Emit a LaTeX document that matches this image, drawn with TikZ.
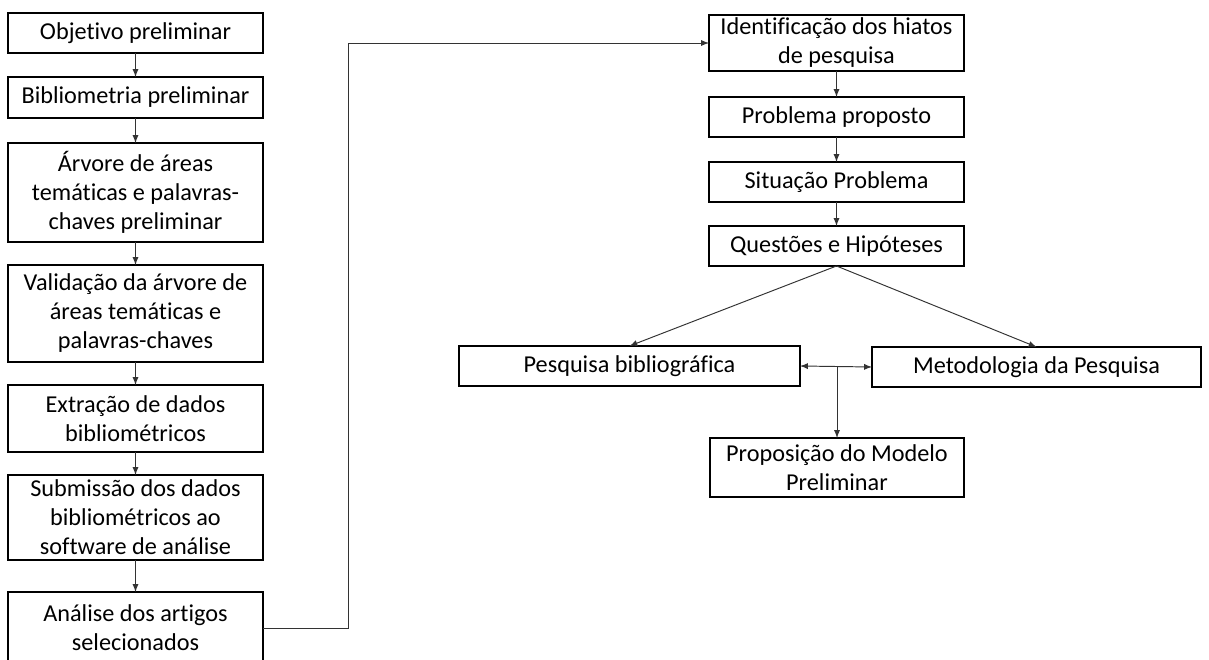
\documentclass[tikz,border=0pt]{standalone}
\usepackage{fontspec}
\setmainfont{Carlito}[Ligatures=NoCommon]
\usetikzlibrary{arrows}
\usetikzlibrary{calc}

\begin{document}
\begin{tikzpicture}[box/.style={draw, line width=0.8pt, inner sep=0pt, outer sep=0pt, align=center, font=\fontsize{13.8}{16.5}\selectfont}, link/.style={-latex, draw=black!80, line width=0.55pt}]
  \useasboundingbox (0,0) rectangle (24.18,-13.2);

  \node[box, minimum width=5.1cm, minimum height=0.8cm] (obj) at (2.71,-0.66) {Objetivo preliminar};
  \node[box, minimum width=5.1cm, minimum height=0.82cm] (biblio) at (2.71,-1.95) {Bibliometria preliminar};
  \node[box, minimum width=5.1cm, minimum height=1.98cm] (arvore) at (2.71,-3.85) {Árvore de áreas\\temáticas e palavras-\\chaves preliminar};
  \node[box, minimum width=5.1cm, minimum height=1.94cm] (valid) at (2.71,-6.27) {Validação da árvore de\\áreas temáticas e\\palavras-chaves};
  \node[box, minimum width=5.1cm, minimum height=1.34cm] (extr) at (2.71,-8.37) {Extração de dados\\bibliométricos};
  \node[box, minimum width=5.1cm, minimum height=1.70cm] (subm) at (2.71,-10.35) {Submissão dos dados\\bibliométricos ao\\software de análise};
  \node[box, minimum width=5.1cm, minimum height=1.44cm] (analise) at (2.71,-12.56) {Análise dos artigos\\selecionados};

  \node[box, minimum width=5.1cm, minimum height=1.12cm] (ident) at (16.73,-0.86) {Identificação dos hiatos\\de pesquisa};
  \node[box, minimum width=5.1cm, minimum height=0.8cm] (probl) at (16.73,-2.34) {Problema proposto};
  \node[box, minimum width=5.1cm, minimum height=0.8cm] (situ) at (16.73,-3.64) {Situação Problema};
  \node[box, minimum width=5.1cm, minimum height=0.8cm] (quest) at (16.73,-4.92) {Questões e Hipóteses};
  \node[box, minimum width=6.82cm, minimum height=0.8cm] (pesq) at (12.59,-7.32) {Pesquisa bibliográfica};
  \node[box, minimum width=6.58cm, minimum height=0.8cm] (metod) at (20.73,-7.34) {Metodologia da Pesquisa};
  \node[box, minimum width=5.08cm, minimum height=1.18cm] (prop) at (16.74,-9.35) {Proposição do Modelo\\Preliminar};

  \foreach \a/\b in {obj/biblio, biblio/arvore, arvore/valid, valid/extr, extr/subm, subm/analise, ident/probl, probl/situ, situ/quest}
    \draw[link] (\a) -- (\b);

  \coordinate (turn) at (6.96,0);
  \draw[link] (analise.east) -- (analise.east -| turn) |- (ident.west);

  \draw[link] (quest.south) -- (pesq.north);
  \draw[link] (quest.south) -- (metod.north);
  \draw[link, latex-latex] (pesq.east) -- (metod.west);
  \draw[link] (pesq.east -| prop.north) -- (prop.north);
\end{tikzpicture}
\end{document}
